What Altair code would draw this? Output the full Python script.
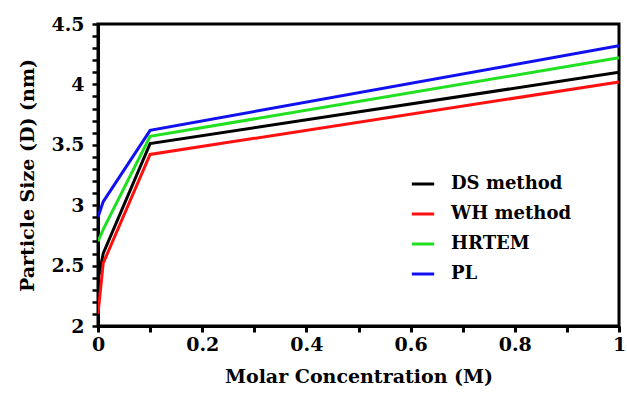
import altair as alt
import pandas as pd

conc = [0.0, 0.01, 0.1, 1.0]
ds_method = [2.38, 2.6, 3.51, 4.10]
wh_method = [2.10, 2.52, 3.42, 4.02]
hrtem = [2.70, 2.80, 3.57, 4.22]
pl = [2.90, 3.03, 3.62, 4.32]

series_names = ["DS method", "WH method", "HRTEM", "PL"]
series_vals = [ds_method, wh_method, hrtem, pl]
colors = ["#000000", "#ff1010", "#20e020", "#1010f0"]

rows = []
for name, vals in zip(series_names, series_vals):
    for i, (c, v) in enumerate(zip(conc, vals)):
        rows.append({"conc": c, "size": v, "series": name, "order": i})
df = pd.DataFrame(rows)

font = "DejaVu Serif"
x_ticks = [round(i * 0.1, 1) for i in range(11)]
y_ticks = [round(2 + i * 0.1, 1) for i in range(26)]

chart = alt.Chart(df).mark_line(strokeWidth=3, clip=True).encode(
    x=alt.X("conc:Q",
            scale=alt.Scale(domain=[0, 1], nice=False, zero=False),
            axis=alt.Axis(values=x_ticks, title="Molar Concentration (M)",
                          labelExpr="round(datum.value*10) % 2 == 0 ? format(datum.value, '~g') : ''",
                          grid=False, tickSize=6, tickWidth=3, domainWidth=3,
                          labelPadding=3, titlePadding=13)),
    y=alt.Y("size:Q",
            scale=alt.Scale(domain=[2, 4.5], nice=False, zero=False),
            axis=alt.Axis(values=y_ticks, title="Particle Size (D) (nm)",
                          labelExpr="round(datum.value*10) % 5 == 0 ? format(datum.value, '~g') : ''",
                          grid=False, tickSize=6, tickWidth=2.5, domainWidth=3,
                          labelPadding=8, titlePadding=13)),
    color=alt.Color("series:N",
                    scale=alt.Scale(domain=series_names, range=colors),
                    sort=series_names,
                    legend=alt.Legend(title=None, orient="none", legendX=312, legendY=147,
                                      symbolType="stroke", symbolStrokeWidth=3, symbolSize=500,
                                      labelFont=font, labelFontWeight="bold", labelFontSize=18,
                                      rowPadding=8, labelOffset=15, symbolOffset=0)),
    order="order:Q",
).properties(
    width=521, height=302,
    autosize=alt.AutoSizeParams(type="none"),
    padding={"left": 98, "top": 24, "right": 8, "bottom": 68},
).configure_view(
    stroke="black", strokeWidth=3
).configure_axis(
    labelFont=font, labelFontWeight="bold", labelFontSize=19, labelColor="black",
    titleFont=font, titleFontWeight="bold", titleFontSize=19, titleColor="black",
    domainColor="black", tickColor="black", labelFlush=False, labelOverlap=False,
)

chart.save("out.html", embed_options={"renderer": "svg", "actions": False})
